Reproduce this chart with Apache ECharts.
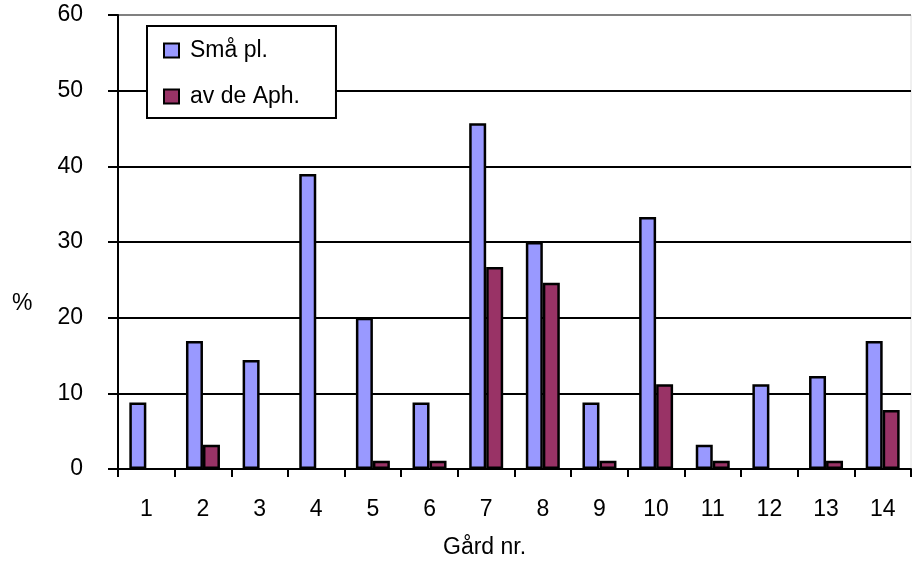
<!DOCTYPE html>
<html>
<head>
<meta charset="utf-8">
<script src="https://cdn.jsdelivr.net/npm/echarts@6/dist/echarts.min.js"></script>
<style>
  html, body { margin: 0; padding: 0; background: #fff; }
  #chart { width: 913px; height: 561px; }
</style>
</head>
<body>
<div id="chart"></div>
<script>
// Farm numbers along the x axis
const farms = ['1', '2', '3', '4', '5', '6', '7', '8', '9', '10', '11', '12', '13', '14'];
// Percentage values per farm
const smaPl = [8.8, 16.9, 14.4, 39.0, 20.0, 8.8, 45.7, 30.0, 8.8, 33.3, 3.2, 11.2, 12.3, 16.9];
const avDeAph = [null, 3.2, null, null, 1.1, 1.1, 26.7, 24.6, 1.1, 11.2, 1.1, null, 1.1, 7.8];
const seriesNames = ['Små pl.', 'av de Aph.'];
const yTicks = [0, 10, 20, 30, 40, 50, 60];
const xTitle = 'Gård nr.';
const yTitle = '%';

const font = '"Liberation Sans", Arial, sans-serif';
const chart = echarts.init(document.getElementById('chart'));

chart.setOption({
  animation: false,
  backgroundColor: '#fff',
  textStyle: { fontFamily: font },
  grid: { left: 118, right: 2, top: 15, bottom: 92, show: true, borderColor: '#e0e0e0', borderWidth: 1, backgroundColor: 'transparent' },
  legend: {
    orient: 'vertical',
    left: 147,
    top: 26,
    data: seriesNames,
    backgroundColor: '#fff',
    borderColor: '#000',
    borderWidth: 2,
    padding: [13, 36, 10, 16],
    itemGap: 23,
    itemWidth: 15,
    itemHeight: 14,
    icon: 'rect',
    textStyle: { fontFamily: font, fontSize: 23, color: '#000', padding: [0, 0, 0, 6] },
    z: 10
  },
  graphic: [
    {
      type: 'text',
      left: 443,
      top: 536,
      style: { text: xTitle, font: '23px ' + font, fill: '#000' }
    },
    {
      type: 'text',
      left: 12,
      top: 292,
      style: { text: yTitle, font: '23px ' + font, fill: '#000' }
    }
  ],
  xAxis: {
    type: 'category',
    data: farms,
    axisLine: { lineStyle: { color: '#000', width: 2 } },
    axisTick: { show: true, length: 8, inside: false, alignWithLabel: false, lineStyle: { color: '#000', width: 2 } },
    axisLabel: { fontFamily: font, fontSize: 23, color: '#000', margin: 29 },
    splitLine: { show: false }
  },
  yAxis: {
    type: 'value',
    min: 0,
    max: 60,
    interval: 10,
    axisLine: { show: true, lineStyle: { color: '#000', width: 2 } },
    axisTick: { show: true, length: 10, lineStyle: { color: '#000', width: 2 } },
    axisLabel: {
      fontFamily: font, fontSize: 23, color: '#000', margin: 35,
      formatter: v => (yTicks.indexOf(v) >= 0 ? String(v) : '')
    },
    splitLine: {
      show: true,
      lineStyle: { color: ['#000', '#000', '#000', '#000', '#000', '#000', '#808080'], width: 2 }
    }
  },
  series: [
    {
      name: seriesNames[0],
      type: 'bar',
      data: smaPl,
      barGap: '0%',
      barCategoryGap: '40%',
      itemStyle: { color: '#9999FF', borderColor: '#000', borderWidth: 2.5 }
    },
    {
      name: seriesNames[1],
      type: 'bar',
      data: avDeAph,
      itemStyle: { color: '#993366', borderColor: '#000', borderWidth: 2.5 }
    }
  ]
});
</script>
</body>
</html>
